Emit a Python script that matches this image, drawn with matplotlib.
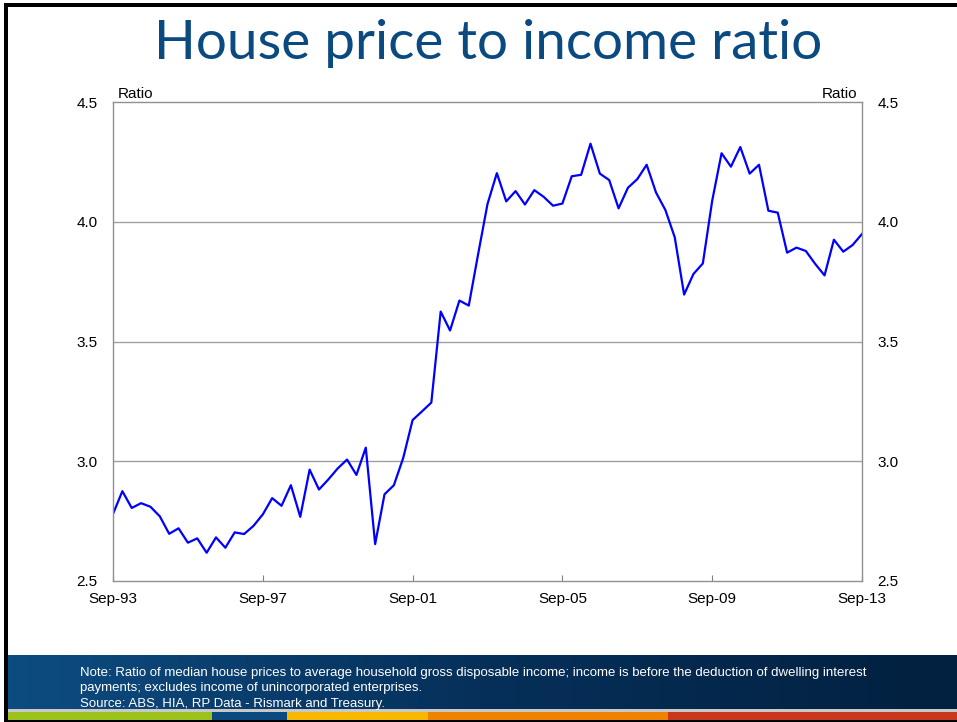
import numpy as np
import matplotlib
matplotlib.use('Agg')
import matplotlib.pyplot as plt
from matplotlib.patches import Rectangle
from matplotlib.colors import LinearSegmentedColormap

plt.rcParams['font.family'] = ['Liberation Sans', 'DejaVu Sans']

# ------------------------------------------------------------
# 데이터: 분기별 주택가격/소득 비율 (Sep-93 ~ Sep-13)
# ------------------------------------------------------------
ratio = [
    2.78, 2.875, 2.805, 2.825, 2.81, 2.77, 2.697, 2.72, 2.66, 2.678,
    2.618, 2.682, 2.639, 2.703, 2.696, 2.73, 2.778, 2.846, 2.814, 2.90,
    2.768, 2.965, 2.882, 2.924, 2.97, 3.007, 2.943, 3.057, 2.654, 2.862,
    2.90, 3.014, 3.172, 3.208, 3.245, 3.625, 3.546, 3.671, 3.65, 3.865,
    4.074, 4.203, 4.085, 4.128, 4.072, 4.132, 4.104, 4.067, 4.076, 4.19,
    4.196, 4.326, 4.201, 4.174, 4.056, 4.142, 4.178, 4.238, 4.122, 4.049,
    3.935, 3.696, 3.782, 3.826, 4.088, 4.286, 4.23, 4.312, 4.201, 4.238,
    4.046, 4.038, 3.871, 3.892, 3.878, 3.824, 3.776, 3.925, 3.875, 3.903,
    3.949,
]
quarters = np.arange(len(ratio))
xtick_labels = ['Sep-93', 'Sep-97', 'Sep-01', 'Sep-05', 'Sep-09', 'Sep-13']
yticks = [2.5, 3.0, 3.5, 4.0, 4.5]
strip_colors = ['#9bc31c', '#0a4a80', '#f9b800', '#ef8200', '#c8371e']
strip_edges = [8, 212, 287, 428, 668, 957]

title = 'House price to income ratio'
note = ('Note: Ratio of median house prices to average household gross disposable income; '
        'income is before the deduction of dwelling interest\n'
        'payments; excludes income of unincorporated enterprises.\n'
        'Source: ABS, HIA, RP Data - Rismark and Treasury.')

W, H = 957, 722
fig = plt.figure(figsize=(W / 100, H / 100), dpi=100)
fig.patch.set_facecolor('white')

# 배경 요소 (슬라이드 틀, 하단 밴드)
bg = fig.add_axes([0, 0, 1, 1])
bg.set_xlim(0, W)
bg.set_ylim(H, 0)
bg.axis('off')

cmap = LinearSegmentedColormap.from_list('band', ['#0d4c80', '#06305a', '#02203f'])
grad = np.linspace(0, 1, 256).reshape(1, -1)
bg.imshow(grad, extent=[8, W, 710, 655], cmap=cmap, aspect='auto')
bg.add_patch(Rectangle((8, 709), W, 2.5, color='#c8c8c8', lw=0))
for i, c in enumerate(strip_colors):
    bg.add_patch(Rectangle((strip_edges[i], 711.5), strip_edges[i + 1] - strip_edges[i], 8.5,
                           color=c, lw=0))
# 검은 테두리
bg.add_patch(Rectangle((4, 3), 4, 719, color='black', lw=0))
bg.add_patch(Rectangle((4, 3), W, 4, color='black', lw=0))
bg.add_patch(Rectangle((4, 720), W, 2, color='black', lw=0))

bg.text(488, 43, title, ha='center', va='center', fontsize=39.5,
        color='#0a4a80', family=['Lato', 'DejaVu Sans'])
bg.text(80, 667, note, ha='left', va='top', fontsize=9.5, color='white',
        linespacing=1.38)

# 메인 차트
left, right, top, bottom = 113, 862, 102, 581
ax = fig.add_axes([left / W, 1 - bottom / H, (right - left) / W, (bottom - top) / H])
ax.plot(quarters, ratio, color='#0000ff', lw=1.6)
ax.set_xlim(0, len(ratio) - 1)
ax.set_ylim(2.5, 4.5)
ax.set_xticks(np.arange(0, len(ratio), 16))
ax.set_xticklabels(xtick_labels, fontsize=11)
ax.set_yticks(yticks)
ax.set_yticklabels([f'{v:.1f}' for v in yticks], fontsize=11)
ax.tick_params(axis='x', direction='in', length=4, color='#808080', pad=8)
ax.tick_params(axis='y', length=0, pad=11, labelleft=True, labelright=True)
for s in ax.spines.values():
    s.set_color('#909090')
    s.set_linewidth(1)
for v in [3.0, 3.5, 4.0]:
    ax.axhline(v, color='#a0a0a0', lw=1, zorder=0)

ax.text(0.006, 1.002, 'Ratio', transform=ax.transAxes, ha='left', va='bottom', fontsize=11)
ax.text(0.994, 1.002, 'Ratio', transform=ax.transAxes, ha='right', va='bottom', fontsize=11)

fig.savefig('out.png', dpi=100)
